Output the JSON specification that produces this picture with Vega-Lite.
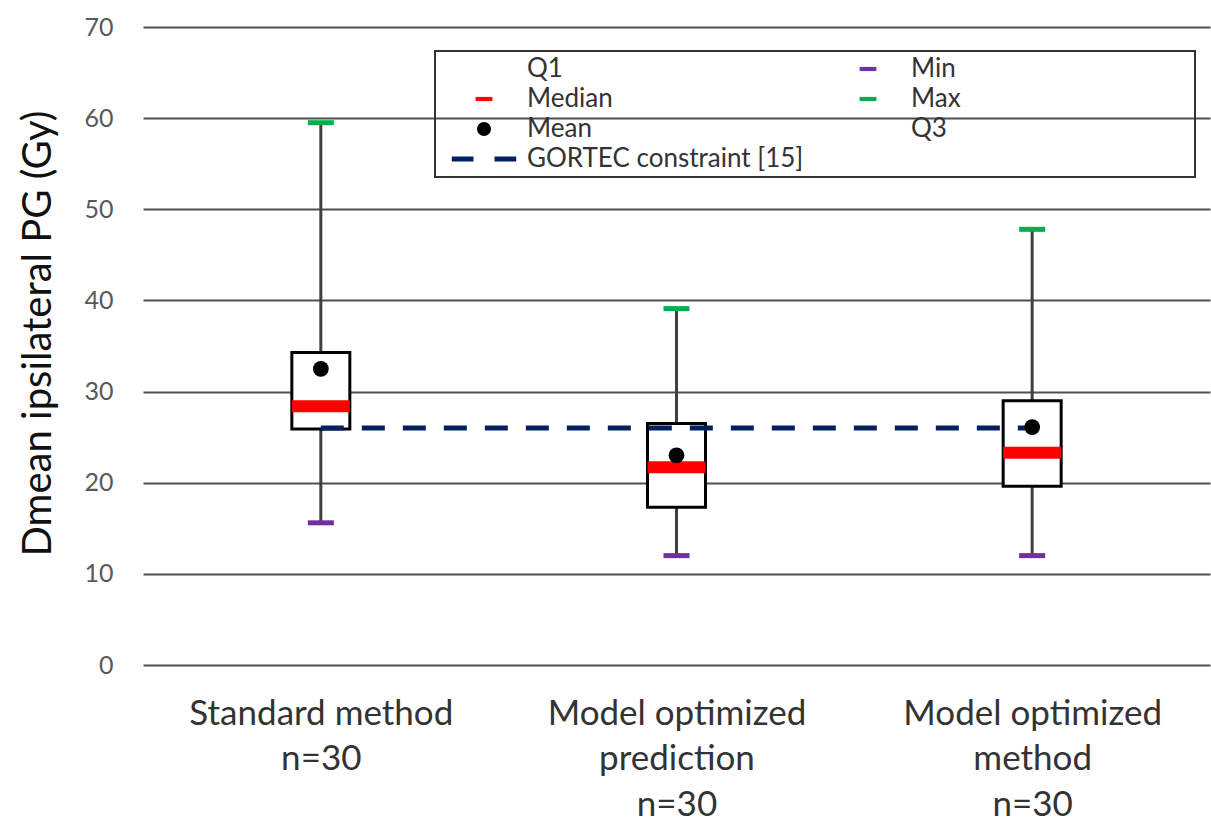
{
  "$schema": "https://vega.github.io/schema/vega-lite/v6.json",
  "width": 1067,
  "height": 638,
  "autosize": {"type": "none"},
  "padding": {"left": 143, "top": 27, "right": 1, "bottom": 157},
  "background": "white",
  "config": {
    "font": "Lato",
    "view": {"stroke": null}
  },
  "data": {
    "values": [
      {"method": "Standard method", "Min": 15.6, "Q1": 25.9, "Median": 28.4, "Mean": 32.5, "Q3": 34.3, "Max": 59.5, "GORTEC": 26},
      {"method": "Model optimized prediction", "Min": 12.0, "Q1": 17.3, "Median": 21.7, "Mean": 23.0, "Q3": 26.5, "Max": 39.1, "GORTEC": 26},
      {"method": "Model optimized method", "Min": 12.0, "Q1": 19.6, "Median": 23.3, "Mean": 26.1, "Q3": 29.0, "Max": 47.8, "GORTEC": 26}
    ]
  },
  "encoding": {
    "x": {
      "field": "method",
      "type": "nominal",
      "sort": null,
      "scale": {"type": "point", "padding": 0.5},
      "axis": {
        "title": null,
        "labelAngle": 0,
        "domain": false,
        "ticks": false,
        "grid": false,
        "labelFontSize": 35,
        "labelLineHeight": 45.5,
        "labelLimit": 500,
        "labelColor": "#333333",
        "labelPadding": 31,
        "labelExpr": "datum.value == 'Standard method' ? ['Standard method', 'n=30'] : datum.value == 'Model optimized prediction' ? ['Model optimized', 'prediction', 'n=30'] : ['Model optimized', 'method', 'n=30']"
      }
    }
  },
  "layer": [
    {
      "mark": {"type": "rule", "color": "#404040", "strokeWidth": 3},
      "encoding": {
        "y": {
          "field": "Min",
          "type": "quantitative",
          "scale": {"domain": [0, 70], "nice": false},
          "axis": {
            "title": "Dmean ipsilateral PG (Gy)",
            "values": [0, 10, 20, 30, 40, 50, 60, 70],
            "domain": false,
            "ticks": false,
            "grid": true,
            "gridColor": "#505050",
            "gridWidth": 1.8,
            "labelFontSize": 25,
            "labelColor": "#595959",
            "labelPadding": 30,
            "titleFontSize": 40,
            "titleFontWeight": "normal",
            "titleColor": "#111111",
            "titlePadding": 25,
            "titleY": 306
          }
        },
        "y2": {"field": "Max"}
      }
    },
    {
      "mark": {"type": "bar", "width": 58, "fill": "white", "stroke": "black", "strokeWidth": 3},
      "encoding": {
        "y": {"field": "Q1", "type": "quantitative", "scale": {"domain": [0, 70], "nice": false}},
        "y2": {"field": "Q3"}
      }
    },
    {
      "mark": {"type": "tick", "color": "#FF0000", "size": 58, "thickness": 12, "opacity": 1},
      "encoding": {
        "y": {"field": "Median", "type": "quantitative", "scale": {"domain": [0, 70], "nice": false}}
      }
    },
    {
      "mark": {"type": "tick", "color": "#7030A0", "size": 26, "thickness": 5, "opacity": 1},
      "encoding": {
        "y": {"field": "Min", "type": "quantitative", "scale": {"domain": [0, 70], "nice": false}}
      }
    },
    {
      "mark": {"type": "tick", "color": "#00B050", "size": 26, "thickness": 5, "opacity": 1},
      "encoding": {
        "y": {"field": "Max", "type": "quantitative", "scale": {"domain": [0, 70], "nice": false}}
      }
    },
    {
      "mark": {"type": "line", "color": "#002060", "strokeWidth": 5, "strokeDash": [23, 18]},
      "encoding": {
        "y": {"field": "GORTEC", "type": "quantitative", "scale": {"domain": [0, 70], "nice": false}}
      }
    },
    {
      "mark": {"type": "point", "filled": true, "color": "black", "size": 250, "opacity": 1},
      "encoding": {
        "y": {"field": "Mean", "type": "quantitative", "scale": {"domain": [0, 70], "nice": false}}
      }
    },
    {
      "transform": [{"fold": ["Q1", "Median", "Mean", "GORTEC", "Min", "Max", "Q3"], "as": ["stat", "val"]}],
      "mark": {"type": "point", "filled": true, "opacity": 0},
      "encoding": {
        "y": {"field": "val", "type": "quantitative", "scale": {"domain": [0, 70], "nice": false}},
        "color": {
          "field": "stat",
          "type": "nominal",
          "scale": {
            "domain": ["Q1", "Median", "Mean", "GORTEC", "Min", "Max", "Q3"],
            "range": ["transparent", "#FF0000", "#000000", "#002060", "#7030A0", "#00B050", "transparent"]
          },
          "legend": {
            "title": null,
            "orient": "none",
            "legendX": 292,
            "legendY": 24,
            "columns": 2,
            "gridAlign": "each",
            "symbolSize": 196,
            "symbolOffset": 31,
            "symbolStrokeWidth": 0,
            "symbolOpacity": 1,
            "labelOffset": 30,
            "labelFontSize": 26,
            "labelLimit": 600,
            "labelColor": "#333333",
            "padding": 5,
            "rowPadding": 4,
            "columnPadding": 20,
            "strokeColor": "#333333",
            "labelExpr": "datum.label == 'GORTEC' ? 'GORTEC constraint [15]' : datum.label",
            "encode": {"legend": {"update": {"strokeWidth": {"value": 2}}}}
          }
        },
        "shape": {
          "field": "stat",
          "type": "nominal",
          "scale": {
            "domain": ["Q1", "Median", "Mean", "GORTEC", "Min", "Max", "Q3"],
            "range": [
              "circle",
              "M-1.2,-0.3H1.2V0.3H-1.2Z",
              "circle",
              "M-4.6,-0.36H-1.5V0.36H-4.6Z M1.5,-0.36H4.6V0.36H1.5Z",
              "M-1.2,-0.3H1.2V0.3H-1.2Z",
              "M-1.2,-0.3H1.2V0.3H-1.2Z",
              "M-1,-0.5H45.9V0.5H-1Z"
            ]
          }
        }
      }
    }
  ]
}
